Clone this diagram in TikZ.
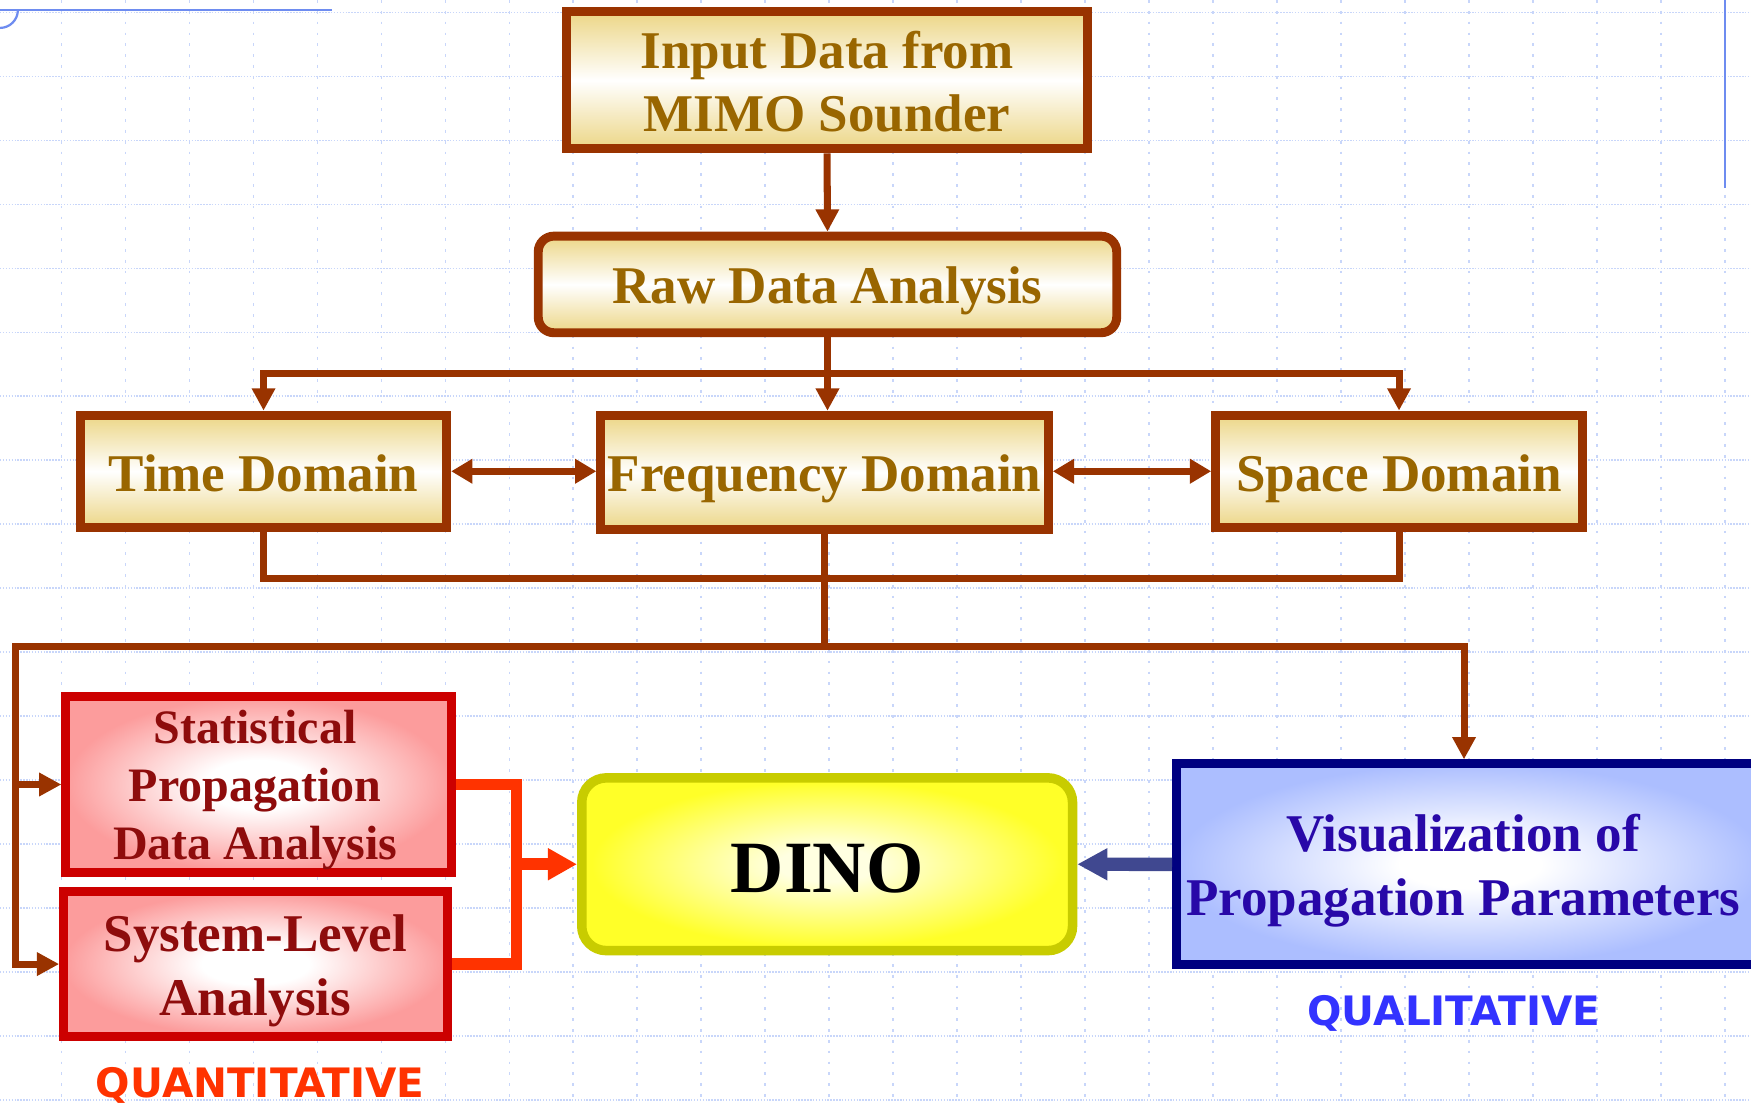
\documentclass[tikz,border=0pt]{standalone}
\usepackage{fontspec}
\setmainfont{Liberation Serif}
\newfontfamily\tagfont{DejaVu Sans}
\usetikzlibrary{arrows.meta}

% palette
\definecolor{brownline}{HTML}{993300}
\definecolor{goldtext}{HTML}{996600}
\definecolor{goldfill}{RGB}{236,214,134}
\definecolor{redline}{HTML}{CC0000}
\definecolor{pinkfill}{RGB}{252,156,156}
\definecolor{redtext}{HTML}{8E0C0C}
\definecolor{dinoline}{RGB}{200,204,0}
\definecolor{dinofill}{RGB}{255,255,40}
\definecolor{dinocore}{RGB}{255,255,225}
\definecolor{navyline}{HTML}{000080}
\definecolor{bluefill}{RGB}{172,190,255}
\definecolor{bluetext}{RGB}{40,8,168}
\definecolor{orangeline}{HTML}{FF3300}
\definecolor{slatearrow}{RGB}{64,72,144}
\definecolor{qualblue}{HTML}{3333FF}
\definecolor{gridblue}{RGB}{200,214,250}
\definecolor{frameblue}{RGB}{110,140,240}

% soft glows for the analysis boxes
\pgfdeclareradialshading{pinkglow}{\pgfpoint{0bp}{0bp}}{color(0bp)=(white); color(7bp)=(white); color(25bp)=(pinkfill); color(50bp)=(pinkfill)}
\pgfdeclareradialshading{yellowglow}{\pgfpoint{0bp}{0bp}}{color(0bp)=(dinocore); color(5bp)=(dinocore); color(24bp)=(dinofill); color(50bp)=(dinofill)}
\pgfdeclareradialshading{blueglow}{\pgfpoint{0bp}{0bp}}{color(0bp)=(white); color(6bp)=(white); color(25bp)=(bluefill); color(50bp)=(bluefill)}

\tikzset{
  gridh/.style={draw=gridblue, line width=1.3pt, dash pattern=on 1.3pt off 1.3pt},
  gridv/.style={draw=gridblue, line width=1.5pt, dash pattern=on 2.4pt off 7.3pt},
  titlebox/.style={draw=brownline, line width=8pt, top color=goldfill, bottom color=goldfill,
    middle color=white, text=goldtext, inner sep=0pt, align=center,
    font=\bfseries\fontsize{47.5}{56.8}\selectfont},
  redbox/.style={draw=redline, line width=8pt, shading=pinkglow, text=redtext, inner sep=0pt, align=center},
  dinobox/.style={draw=dinoline, line width=8.5pt, shading=yellowglow, rounded corners=22pt,
    text=black, inner sep=0pt, font=\bfseries\fontsize{66}{70}\selectfont},
  visbox/.style={draw=navyline, line width=8pt, shading=blueglow, text=bluetext, inner sep=0pt, align=center,
    font=\bfseries\fontsize{47.5}{56.7}\selectfont},
  conn/.style={draw=brownline, line width=6.3pt},
  tipb/.style={-{Triangle[length=20pt,width=20pt]}},
  dtip/.style={{Triangle[length=19pt,width=21pt]}-{Triangle[length=19pt,width=21pt]}},
  feed/.style={draw=orangeline, line width=10.5pt},
  tipo/.style={-{Triangle[length=26pt,width=27pt]}},
  slate/.style={draw=slatearrow, line width=12pt},
  tips/.style={-{Triangle[length=27pt,width=27pt]}},
  tag/.style={font=\tagfont\bfseries\fontsize{36.3}{40}\selectfont, inner sep=0pt, anchor=base},
}

\begin{document}
\begin{tikzpicture}[x=1pt, y=-1pt]
\path[use as bounding box, clip] (0,0) rectangle (1568,989);
\fill[white] (0,0) rectangle (1568,989);

% dotted background grid
\foreach \k in {0,...,17} \draw[gridh] (0,11+57.3*\k) -- (1568,11+57.3*\k);
\foreach \k in {0,...,26} \draw[gridv] (55+57.3*\k,0) -- (55+57.3*\k,989);

% template frame strokes
\draw[frameblue, line width=2pt] (0,9) -- (297,9);
\draw[frameblue, line width=2pt] (16,9) arc[start angle=0, end angle=90, radius=16];
\draw[frameblue, line width=2pt] (1545,0) -- (1545,168.7);

% processing chain
\node[titlebox, minimum width=466pt, minimum height=122.7pt, text height=97pt, text depth=5pt]
  (input) at (740.6,72) {\begin{tabular}[b]{@{}c@{}}Input Data from\\MIMO Sounder\end{tabular}};
\node[titlebox, rounded corners=14pt, minimum width=518pt, minimum height=86.5pt, text height=39.6pt, text depth=5pt]
  (raw) at (741,254.7) {Raw Data Analysis};

\node[titlebox, minimum width=328pt, minimum height=100.6pt, text height=41pt, text depth=5pt]
  (time) at (236,422) {Time Domain};
\node[titlebox, minimum width=400.8pt, minimum height=102.7pt, text height=38.6pt, text depth=5pt]
  (freq) at (738.4,423.2) {Frequency Domain};
\node[titlebox, minimum width=328.4pt, minimum height=100.6pt, text height=41pt, text depth=5pt]
  (space) at (1252.8,422) {Space Domain};

% analysis stage
\node[redbox, minimum width=345.2pt, minimum height=157pt, text height=140pt, text depth=5pt,
  font=\bfseries\fontsize{43}{52.2}\selectfont]
  (stat) at (231.6,702.5) {\begin{tabular}[b]{@{}c@{}}Statistical\\Propagation\\Data Analysis\end{tabular}\hspace{6pt}};
\node[redbox, minimum width=343.4pt, minimum height=129.4pt, text height=96.4pt, text depth=5pt,
  font=\bfseries\fontsize{47.5}{57}\selectfont]
  (sys) at (228.7,863.3) {\begin{tabular}[b]{@{}c@{}}System-Level\\Analysis\end{tabular}};
\node[dinobox, minimum width=439.5pt, minimum height=154.7pt, text height=56pt, text depth=5pt]
  (dino) at (740.7,773.9) {DINO};
% this box runs past the right edge of the page
\node[visbox, minimum width=526.5pt, minimum height=180pt, text height=95.8pt, text depth=5pt]
  (vis) at (1316.75,774) {\begin{tabular}[b]{@{}c@{}}Visualization of\\Propagation Parameters\end{tabular}\hspace{13pt}};

\node[tag, text=orangeline] (quant) at (233,983) {QUANTITATIVE};
\node[tag, text=qualblue] (qual) at (1302,918) {QUALITATIVE};

% junction points of the connectors
\coordinate (busTop) at (741,334.5);
\coordinate (busLow) at (741,517.8);
\coordinate (splitY) at (741,578.8);
\coordinate (rail) at (13.7,578.8);
\coordinate (feedX) at (462.5,0);
\coordinate (visDrop) at (1311,0);

% connectors
\draw[conn, tipb] (input.south) -- (raw.north);
\draw[conn, tipb] (raw.south) -- (raw.south |- freq.north);
\draw[conn, line cap=rect] (time.north |- busTop) -- (space.north |- busTop);
\draw[conn, tipb] (time.north |- busTop) -- (time.north);
\draw[conn, tipb] (space.north |- busTop) -- (space.north);

\draw[conn, dtip] (time.east) -- (freq.west |- time.east);
\draw[conn, dtip] (freq.east |- space.west) -- (space.west);

\draw[conn] (time.south) -- (time.south |- busLow) -- (space.south |- busLow) -- (space.south);
\draw[conn] (freq.south) -- (freq.south |- splitY);
\draw[conn, tipb] (freq.south |- splitY) -- (rail) -- (rail |- sys.west) -- (sys.west);
\draw[conn, tipb] (rail |- stat.west) -- (stat.west);
\draw[conn, tipb] (freq.south |- splitY) -- (visDrop |- splitY) -- (visDrop |- vis.north);

\draw[feed] (stat.east) -- (feedX |- stat.east) -- (feedX |- sys.east) -- (sys.east);
\draw[feed, tipo] (feedX |- dino.west) -- (dino.west);
\draw[slate, tips] (vis.west) -- (dino.east);
\end{tikzpicture}
\end{document}
